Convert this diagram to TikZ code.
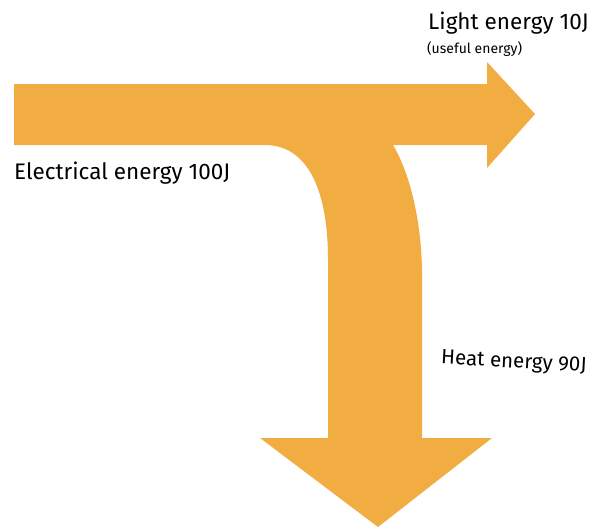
\documentclass[tikz,border=0pt]{standalone}
\usepackage{fontspec}
\setmainfont{Fira Sans}
\definecolor{flow}{HTML}{F1AD42}
\begin{document}
\begin{tikzpicture}[x=1pt,y=-1pt,
  flow_band/.style={fill=flow,draw=none},
  energy_label/.style={anchor=west,inner sep=0pt,font=\fontsize{22.5}{26}\selectfont}]

     \useasboundingbox (0,0) rectangle (601,527);

     \fill[flow_band] (14,84) -- (487,84) -- (487,62) -- (535,114) -- (487,168) -- (487,145)
       -- (393,145) .. controls (408,170) and (421,215) .. (422,270)
       -- (422,438) -- (492,438) -- (378,527) -- (260,438) -- (328,438)
       -- (328,260) .. controls (328,185) and (305,145) .. (265,145)
       -- (14,145) -- cycle;

     \node[energy_label] (light) at (428,23) {Light energy 10J};
     \node[energy_label,font=\fontsize{14}{16}\selectfont] (useful) at (427,49) {(useful energy)};
     \node[energy_label] (electrical) at (14,173) {Electrical energy 100J};
     \node[energy_label,font=\fontsize{20.5}{24}\selectfont,rotate=-3] (heat) at (441,359) {Heat energy 90J};

 \end{tikzpicture}
\end{document}
